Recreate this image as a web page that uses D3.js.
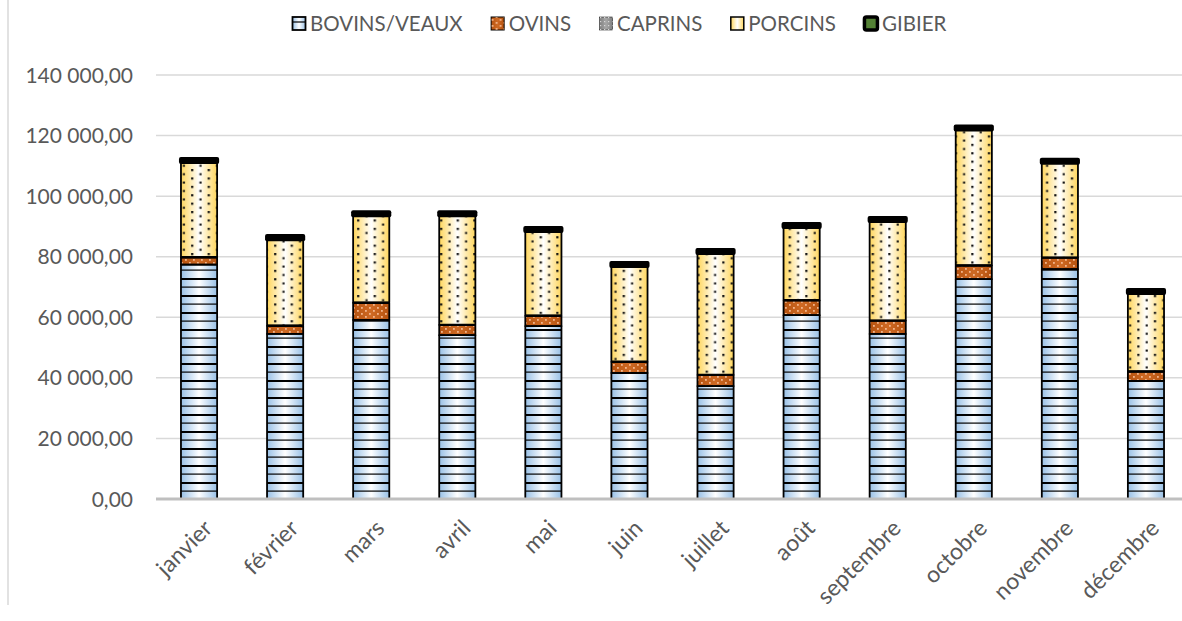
<!DOCTYPE html>
<html>
<head>
<meta charset="utf-8">
<script src="https://cdn.jsdelivr.net/npm/d3@7"></script>
<style>
  html, body { margin: 0; padding: 0; background: #ffffff; }
  svg { display: block; }
  text { font-family: Lato, "Open Sans", sans-serif; fill: #595959; }
</style>
</head>
<body>
<svg id="chart" width="1182" height="621"></svg>
<script>
// ---- DATA ----
const months = ["janvier", "février", "mars", "avril", "mai", "juin", "juillet", "août", "septembre", "octobre", "novembre", "décembre"];
const seriesNames = ["BOVINS/VEAUX", "OVINS", "CAPRINS", "PORCINS", "GIBIER"];
const bovins  = [77400, 54500, 59100, 54100, 57100, 41600, 37300, 60700, 54500, 72600, 75900, 39000];
const ovins   = [2300, 2600, 5600, 3300, 3300, 3600, 3600, 4800, 4300, 4400, 3700, 3000];
const caprins = [200, 200, 200, 200, 200, 200, 200, 200, 200, 200, 200, 200];
const porcins = [31350, 28500, 28800, 36100, 27870, 31500, 40100, 24100, 32800, 44800, 31200, 25800];
const gibier  = [1000, 1000, 1000, 1000, 1000, 1000, 1000, 1000, 1000, 1000, 1000, 1000];
const yTicks  = [0, 20000, 40000, 60000, 80000, 100000, 120000, 140000];

// ---- SETUP ----
const svg = d3.select("#chart");
const plotLeft = 156, plotRight = 1189, yBottom = 499, yTop = 75;

const table = months.map((m, i) => ({
  month: m,
  "BOVINS/VEAUX": bovins[i], "OVINS": ovins[i], "CAPRINS": caprins[i],
  "PORCINS": porcins[i], "GIBIER": gibier[i]
}));

const x = d3.scaleBand().domain(months).range([plotLeft, plotRight]).paddingInner(0.58).paddingOuter(0.29);
const y = d3.scaleLinear().domain([0, 140000]).range([yBottom, yTop]);

const locale = d3.formatLocale({ decimal: ",", thousands: " ", grouping: [3] });
const fmt = locale.format(",.2f");

// ---- DEFS (gradients & patterns) ----
const defs = svg.append("defs");
function hGrad(id, edge, mid) {
  const g = defs.append("linearGradient").attr("id", id)
    .attr("x1", "0").attr("x2", "1").attr("y1", "0").attr("y2", "0");
  g.append("stop").attr("offset", "0").attr("stop-color", edge);
  g.append("stop").attr("offset", "0.5").attr("stop-color", mid);
  g.append("stop").attr("offset", "1").attr("stop-color", edge);
}
hGrad("gBov", "#98c0e6", "#ffffff");
hGrad("gPor", "#ffd65c", "#ffffff");
hGrad("gOvi", "#b5520f", "#cf6a24");
hGrad("gCap", "#7f7f7f", "#a6a6a6");
hGrad("gGib", "#4e7a2f", "#5f9a3a");

// horizontal lines for bovins
const pB = defs.append("pattern").attr("id", "pBov").attr("patternUnits", "userSpaceOnUse")
  .attr("width", 20).attr("height", 17).attr("y", yBottom % 17);
pB.append("rect").attr("x", 0).attr("y", 0).attr("width", 20).attr("height", 2).attr("fill", "#000");
pB.append("rect").attr("x", 0).attr("y", 8.5).attr("width", 20).attr("height", 1.2).attr("fill", "#000");

// dots for porcins
const pP = defs.append("pattern").attr("id", "pPor").attr("patternUnits", "userSpaceOnUse")
  .attr("width", 16.6).attr("height", 8.4).attr("x", 2.5).attr("y", 1);
pP.append("rect").attr("x", 6).attr("y", 0).attr("width", 2.2).attr("height", 2.2).attr("fill", "#111");
pP.append("rect").attr("x", 14.3).attr("y", 4.2).attr("width", 2.2).attr("height", 2).attr("fill", "#111");

// dots for ovins
const pO = defs.append("pattern").attr("id", "pOvi").attr("patternUnits", "userSpaceOnUse")
  .attr("width", 8).attr("height", 6);
pO.append("rect").attr("x", 1).attr("y", 1).attr("width", 1.8).attr("height", 1.8).attr("fill", "#f2b48a");
pO.append("rect").attr("x", 5).attr("y", 4).attr("width", 1.8).attr("height", 1.8).attr("fill", "#f2b48a");

// dots for caprins
const pC = defs.append("pattern").attr("id", "pCap").attr("patternUnits", "userSpaceOnUse")
  .attr("width", 4).attr("height", 4);
pC.append("rect").attr("x", 1).attr("y", 1).attr("width", 1.2).attr("height", 1.2).attr("fill", "#d9d9d9");

const style = {
  "BOVINS/VEAUX": { grad: "url(#gBov)", pat: "url(#pBov)", sw: 1.8 },
  "OVINS":        { grad: "url(#gOvi)", pat: "url(#pOvi)", sw: 1.8 },
  "CAPRINS":      { grad: "url(#gCap)", pat: "url(#pCap)", sw: 1.2 },
  "PORCINS":      { grad: "url(#gPor)", pat: "url(#pPor)", sw: 1.8 },
  "GIBIER":       { grad: "url(#gGib)", pat: null, sw: 4 }
};

// ---- FRAME LINE ----
svg.append("line").attr("x1", 8).attr("x2", 8).attr("y1", 0).attr("y2", 605)
  .attr("stroke", "#d9d9d9").attr("stroke-width", 1.5);

// ---- GRIDLINES ----
svg.append("g").selectAll("line").data(yTicks.filter(d => d > 0)).join("line")
  .attr("x1", plotLeft).attr("x2", plotRight)
  .attr("y1", d => y(d)).attr("y2", d => y(d))
  .attr("stroke", "#d9d9d9").attr("stroke-width", 1.5);

// ---- Y LABELS ----
svg.append("g").selectAll("text").data(yTicks).join("text")
  .attr("x", 133).attr("y", d => y(d))
  .attr("dy", "0.36em")
  .attr("text-anchor", "end")
  .style("font-size", "21px")
  .text(d => fmt(d));

// ---- BARS ----
const stacked = d3.stack().keys(seriesNames)(table);

const layers = svg.append("g").selectAll("g").data(stacked).join("g");
layers.each(function(layer) {
  const st = style[layer.key];
  const g = d3.select(this);
  g.selectAll("rect.base").data(layer).join("rect").attr("class", "base")
    .attr("x", d => x(d.data.month)).attr("width", x.bandwidth())
    .attr("y", d => y(d[1])).attr("height", d => y(d[0]) - y(d[1]))
    .attr("fill", st.grad);
  if (st.pat) {
    g.selectAll("rect.pat").data(layer).join("rect").attr("class", "pat")
      .attr("x", d => x(d.data.month)).attr("width", x.bandwidth())
      .attr("y", d => y(d[1])).attr("height", d => y(d[0]) - y(d[1]))
      .attr("fill", st.pat);
  }
});
const outl = svg.append("g").selectAll("g").data(stacked).join("g");
outl.each(function(layer) {
  const st = style[layer.key];
  d3.select(this).selectAll("rect").data(layer).join("rect")
    .attr("x", d => x(d.data.month)).attr("width", x.bandwidth())
    .attr("y", d => y(d[1])).attr("height", d => y(d[0]) - y(d[1]))
    .attr("fill", layer.key === "GIBIER" ? st.grad : "none")
    .attr("stroke", "#000").attr("stroke-width", st.sw)
    .attr("stroke-linejoin", "round");
});

// ---- X AXIS LINE ----
svg.append("line").attr("x1", plotLeft).attr("x2", plotRight)
  .attr("y1", yBottom).attr("y2", yBottom)
  .attr("stroke", "#bfbfbf").attr("stroke-width", 3);

// ---- X LABELS ----
svg.append("g").selectAll("text").data(months).join("text")
  .attr("transform", d => `translate(${x(d) + x.bandwidth() / 2 + 9},${yBottom + 25}) rotate(-45)`)
  .attr("text-anchor", "end")
  .attr("dy", "0.35em")
  .style("font-size", "23px")
  .text(d => d);

// ---- LEGEND ----
const legendFill = {
  "BOVINS/VEAUX": "url(#gBov)", "OVINS": "url(#gOvi)", "CAPRINS": "url(#gCap)",
  "PORCINS": "url(#gPor)", "GIBIER": "#548235"
};
const legendStroke = { "BOVINS/VEAUX": 1.8, "OVINS": 1, "CAPRINS": 0.5, "PORCINS": 1.5, "GIBIER": 3.5 };
const legend = svg.append("g");
let lx = 292;
const ly = 23.5;
seriesNames.forEach(name => {
  const gi = legend.append("g").attr("transform", `translate(${lx},0)`);
  gi.append("rect").attr("x", 0.5).attr("y", ly - 6.5).attr("width", 13).attr("height", 13)
    .attr("fill", legendFill[name]).attr("stroke", "#000").attr("stroke-width", legendStroke[name])
    .attr("rx", name === "GIBIER" ? 2 : 0);
  if (name === "BOVINS/VEAUX") {
    gi.append("line").attr("x1", 0.5).attr("x2", 13.5).attr("y1", ly - 1.5).attr("y2", ly - 1.5)
      .attr("stroke", "#000").attr("stroke-width", 1.2);
  }
  if (name === "OVINS") {
    gi.append("rect").attr("x", 0.5).attr("y", ly - 6.5).attr("width", 13).attr("height", 13).attr("fill", "url(#pOvi)");
  }
  if (name === "CAPRINS") {
    gi.append("rect").attr("x", 0.5).attr("y", ly - 6.5).attr("width", 13).attr("height", 13).attr("fill", "url(#pCap)");
  }
  const t = gi.append("text").attr("x", 18).attr("y", ly).attr("dy", "0.36em")
    .style("font-size", "20.5px").text(name);
  const w = t.node().getComputedTextLength();
  lx += 18 + w + 28;
});
</script>
</body>
</html>
